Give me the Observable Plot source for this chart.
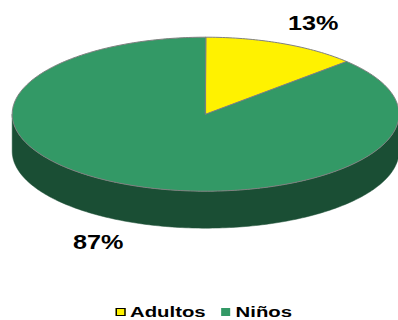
<!DOCTYPE html>
<html><head><meta charset="utf-8">
<script src="https://cdn.jsdelivr.net/npm/d3@7"></script>
<script src="https://cdn.jsdelivr.net/npm/@observablehq/plot@0.6"></script>
<style>
html,body{margin:0;padding:0;background:#fff;}
body{width:398px;height:320px;position:relative;overflow:hidden;font-family:"Liberation Sans",Arial,sans-serif;}
#chart{position:absolute;left:0;top:0;}
#legend{position:absolute;left:0;top:304px;width:398px;height:16px;display:flex;justify-content:center;align-items:center;
  transform:translateX(5px) scaleX(1.45);transform-origin:199px 50%;font-weight:bold;font-size:14px;color:#000;white-space:nowrap;}
#legend .sw{width:6.2px;height:8px;box-sizing:border-box;margin-right:3.5px;}
#legend .item{display:flex;align-items:center;margin-right:11px;}
#legend .item:last-child{margin-right:0;}
</style>
</head><body>
<div id="chart"></div>
<div id="legend"></div>
<script>
// Data
const categories = ["Adultos", "Niños"];
const values = [13, 87];
const labels = ["13%", "87%"];

// Palette
const colors = ["#FFF200", "#339966"];
const swatchBorders = ["#000000", "#339966"];

const depth = 0.48;      // side thickness in y-units
const total = d3.sum(values);
let acc = 0;
const slices = values.map((v, i) => {
  const a0 = acc / total * 2 * Math.PI; acc += v;
  const a1 = acc / total * 2 * Math.PI;
  return {name: categories[i], a0, a1, color: colors[i], side: d3.color(colors[i]).darker(1.9).formatHex(), label: labels[i]};
});

const step = Math.PI / 180;
function arc(a0, a1) {
  const pts = [];
  const n = Math.max(2, Math.ceil((a1 - a0) / step));
  for (let k = 0; k <= n; k++) {
    const a = a0 + (a1 - a0) * k / n;
    pts.push([Math.sin(a), -Math.cos(a)]);
  }
  return pts;
}

const topPts = [];
const sidePts = [];
for (const s of slices) {
  topPts.push({name: s.name, fill: s.color, x: 0, y: 0});
  for (const [x, y] of arc(s.a0, s.a1)) topPts.push({name: s.name, fill: s.color, x, y});
  const s0 = Math.max(s.a0, Math.PI / 2), s1 = Math.min(s.a1, 3 * Math.PI / 2);
  if (s0 < s1) {
    const a = arc(s0, s1);
    for (const [x, y] of a) sidePts.push({name: s.name, fill: s.side, x, y});
    for (const [x, y] of a.slice().reverse()) sidePts.push({name: s.name, fill: s.side, x, y: y + depth});
  }
}

const labelPts = slices.map(s => {
  const m = (s.a0 + s.a1) / 2;
  const c = Math.cos(m);
  return {text: s.label, x: 1.4 * Math.sin(m), y: -1.29 * c + (c < 0 ? depth : 0)};
});

const chart = Plot.plot({
  width: 398,
  height: 296,
  margin: 0,
  x: {domain: [-1, 1], range: [11.7, 398.5], axis: null},
  y: {domain: [-1, 1], range: [36.7, 190.7], axis: null},
  color: {type: "identity"},
  style: {background: "#fff", overflow: "visible"},
  marks: [
    Plot.line(sidePts, {x: "x", y: "y", z: "name", fill: "fill", stroke: "fill", strokeWidth: 0.5, curve: "linear-closed"}),
    Plot.line(topPts, {x: "x", y: "y", z: "name", fill: "fill", stroke: "#808080", strokeWidth: 1, curve: "linear-closed"}),
    Plot.text(labelPts, {x: "x", y: "y", text: "text", fontSize: 21, fontWeight: "bold", fontFamily: "Liberation Sans, Arial, sans-serif", fill: "#000", textAnchor: "middle", lineAnchor: "middle"})
  ]
});
document.getElementById("chart").appendChild(chart);

// horizontal stretch of label text to match the reference
chart.querySelectorAll("g[aria-label=text] text").forEach(t => {
  const w = t.getComputedTextLength();
  if (w > 0) {
    t.setAttribute("textLength", (w * 1.2).toFixed(1));
    t.setAttribute("lengthAdjust", "spacingAndGlyphs");
  }
});

// Legend
const legend = d3.select("#legend");
categories.forEach((c, i) => {
  const it = legend.append("div").attr("class", "item");
  it.append("div").attr("class", "sw").style("background", colors[i]).style("border", `1px solid ${swatchBorders[i]}`);
  it.append("span").text(c);
});
</script>
</body></html>
